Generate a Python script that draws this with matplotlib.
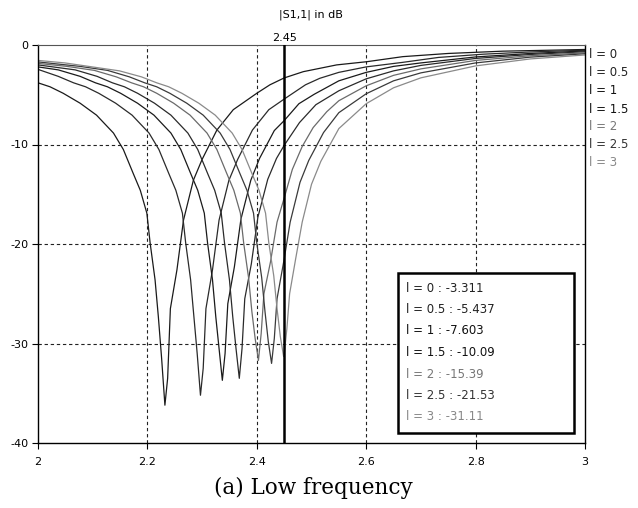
import matplotlib
matplotlib.use('Agg')
import matplotlib.pyplot as plt
from matplotlib.patches import Rectangle
from matplotlib.transforms import blended_transform_factory

plt.rcParams['axes.unicode_minus'] = False

# |S1,1| curves, one list pair per l value
freq_l0 = [2.000, 2.022, 2.046, 2.077, 2.107, 2.138, 2.156, 2.174, 2.187, 2.199, 2.205, 2.214, 2.220, 2.226, 2.232,
           2.237, 2.242, 2.254, 2.266, 2.284, 2.300, 2.327, 2.357, 2.400, 2.424, 2.450, 2.485, 2.546, 2.601, 2.667,
           2.750, 2.850, 3.000]
db_l0 = [-3.8, -4.2, -4.85, -5.85, -7.05, -8.85, -10.5, -12.9, -14.6, -16.9, -19.9, -23.6, -27.3, -31.5, -36.2,
         -33.5, -26.5, -22.6, -17.6, -13.6, -11.5, -8.55, -6.5, -4.85, -4.0, -3.311, -2.68, -2.0, -1.68, -1.17,
         -0.85, -0.62, -0.45]

freq_l05 = [2.000, 2.037, 2.065, 2.087, 2.111, 2.142, 2.172, 2.203, 2.221, 2.239, 2.252, 2.264, 2.270, 2.279, 2.285,
            2.291, 2.297, 2.302, 2.307, 2.319, 2.331, 2.349, 2.365, 2.392, 2.422, 2.450, 2.489, 2.515, 2.550, 2.600,
            2.666, 2.732, 2.815, 2.900, 3.000]
db_l05 = [-2.45, -3.15, -3.8, -4.2, -4.85, -5.85, -7.05, -8.85, -10.5, -12.9, -14.6, -16.9, -19.9, -23.6, -27.3,
          -31.0, -35.2, -32.5, -26.5, -22.6, -17.6, -13.6, -11.5, -8.55, -6.5, -5.437, -4.0, -3.35, -2.75, -2.2,
          -1.75, -1.25, -0.92, -0.7, -0.52]

freq_l1 = [2.000, 2.037, 2.077, 2.105, 2.127, 2.151, 2.182, 2.212, 2.243, 2.261, 2.279, 2.292, 2.304, 2.310, 2.319,
           2.325, 2.331, 2.337, 2.342, 2.347, 2.359, 2.371, 2.389, 2.405, 2.432, 2.450, 2.477, 2.505, 2.550, 2.600,
           2.650, 2.700, 2.800, 2.900, 3.000]
db_l1 = [-2.2, -2.5, -3.15, -3.8, -4.2, -4.85, -5.85, -7.05, -8.85, -10.5, -12.9, -14.6, -16.9, -19.9, -23.6,
         -27.3, -30.5, -33.7, -31.0, -26.0, -22.3, -17.5, -13.6, -11.4, -8.6, -7.603, -5.9, -4.95, -3.6, -2.75,
         -2.15, -1.8, -1.2, -0.85, -0.6]

freq_l15 = [2.000, 2.068, 2.108, 2.136, 2.158, 2.182, 2.213, 2.243, 2.274, 2.292, 2.310, 2.323, 2.335, 2.341, 2.350,
            2.356, 2.362, 2.368, 2.373, 2.378, 2.390, 2.402, 2.420, 2.436, 2.450, 2.478, 2.508, 2.550, 2.600, 2.650,
            2.700, 2.800, 2.900, 3.000]
db_l15 = [-2.0, -2.5, -3.15, -3.8, -4.2, -4.85, -5.85, -7.05, -8.85, -10.5, -12.9, -14.6, -16.9, -19.9, -23.6,
          -27.3, -30.5, -33.5, -30.5, -25.5, -22.0, -17.3, -13.5, -11.4, -10.09, -7.8, -6.0, -4.6, -3.4, -2.6,
          -2.05, -1.35, -0.95, -0.68]

freq_l2 = [2.000, 2.053, 2.103, 2.143, 2.171, 2.193, 2.217, 2.248, 2.278, 2.309, 2.327, 2.345, 2.358, 2.370, 2.376,
           2.385, 2.391, 2.397, 2.403, 2.408, 2.413, 2.425, 2.437, 2.450, 2.465, 2.483, 2.503, 2.528, 2.550, 2.600,
           2.650, 2.700, 2.800, 2.900, 3.000]
db_l2 = [-1.85, -2.15, -2.55, -3.2, -3.8, -4.2, -4.85, -5.85, -7.05, -8.85, -10.5, -12.9, -14.6, -16.9, -19.9,
         -23.4, -26.8, -29.5, -31.7, -29.0, -25.0, -21.8, -17.8, -15.39, -12.5, -10.2, -8.3, -6.7, -5.6, -4.1,
         -3.05, -2.4, -1.55, -1.08, -0.78]

freq_l25 = [2.000, 2.077, 2.127, 2.167, 2.195, 2.217, 2.241, 2.272, 2.302, 2.333, 2.351, 2.369, 2.382, 2.394, 2.400,
            2.409, 2.415, 2.421, 2.427, 2.432, 2.437, 2.450, 2.461, 2.479, 2.495, 2.522, 2.550, 2.600, 2.650, 2.700,
            2.800, 2.900, 3.000]
db_l25 = [-1.7, -2.15, -2.55, -3.2, -3.8, -4.2, -4.85, -5.85, -7.05, -8.85, -10.5, -12.9, -14.6, -16.9, -19.9,
          -23.4, -26.8, -29.8, -32.0, -29.5, -25.5, -21.53, -17.8, -13.8, -11.6, -8.8, -6.8, -4.9, -3.6, -2.8,
          -1.8, -1.22, -0.88]

freq_l3 = [2.000, 2.049, 2.099, 2.149, 2.189, 2.217, 2.239, 2.263, 2.294, 2.324, 2.355, 2.373, 2.391, 2.404, 2.416,
           2.422, 2.431, 2.437, 2.443, 2.449, 2.450, 2.455, 2.460, 2.471, 2.483, 2.500, 2.517, 2.550, 2.600, 2.650,
           2.700, 2.800, 2.900, 3.000]
db_l3 = [-1.55, -1.8, -2.2, -2.6, -3.2, -3.8, -4.2, -4.85, -5.85, -7.05, -8.85, -10.5, -12.9, -14.6, -16.9,
         -19.9, -23.2, -26.5, -29.3, -31.3, -31.11, -28.5, -25.0, -21.5, -17.8, -14.0, -11.7, -8.4, -5.9, -4.3,
         -3.3, -2.1, -1.4, -1.0]

curve_names = ['l = 0', 'l = 0.5', 'l = 1', 'l = 1.5', 'l = 2', 'l = 2.5', 'l = 3']
marker_freq = 2.45
marker_vals = ['-3.311', '-5.437', '-7.603', '-10.09', '-15.39', '-21.53', '-31.11']
x_ticks = [2, 2.2, 2.4, 2.6, 2.8, 3]
x_ticklabels = ['2', '2.2', '2.4', '2.6', '2.8', '3']
y_ticks = [0, -10, -20, -30, -40]

curves = [(freq_l0, db_l0), (freq_l05, db_l05), (freq_l1, db_l1), (freq_l15, db_l15),
          (freq_l2, db_l2), (freq_l25, db_l25), (freq_l3, db_l3)]
line_colors = ['#1a1a1a', '#2a2a2a', '#1a1a1a', '#2a2a2a', '#6a6a6a', '#3a3a3a', '#8a8a8a']
text_colors = ['#222222', '#222222', '#111111', '#111111', '#777777', '#333333', '#888888']

W, H = 638, 508
fig = plt.figure(figsize=(W / 100, H / 100), dpi=100)
ax = fig.add_axes([38 / W, 1 - 443 / H, 547 / W, 398 / H])

for (f, d), c in zip(curves, line_colors):
    ax.plot(f, d, color=c, lw=0.9)

ax.set_xlim(2, 3)
ax.set_ylim(-40, 0)
ax.set_xticks(x_ticks)
ax.set_xticklabels(x_ticklabels)
ax.set_yticks(y_ticks)
ax.tick_params(labelsize=8, length=4, width=0.8)
ax.tick_params(axis='x', pad=6)
ax.tick_params(axis='y', pad=3)

# dashed grid only on the inner lines
for x in x_ticks[1:-1]:
    ax.axvline(x, color='#222222', lw=0.8, ls=(0, (3, 2.5)), zorder=0)
for y in y_ticks[1:-1]:
    ax.axhline(y, color='#222222', lw=0.8, ls=(0, (3, 2.5)), zorder=0)

for side in ['left', 'bottom', 'right']:
    ax.spines[side].set_linewidth(1.0)
ax.spines['top'].set_color('#555555')

# marker line
ax.axvline(marker_freq, color='black', lw=1.8, zorder=3)
tr = blended_transform_factory(ax.transData, ax.transAxes)
ax.text(marker_freq, 1.005, '2.45', transform=tr, ha='center', va='bottom', fontsize=8)

fig.text(311 / W, 1 - 15 / H, '|S1,1| in dB', ha='center', va='center', fontsize=8)

# legend on the right
for i, name in enumerate(curve_names):
    fig.text(589 / W, 1 - (55 + 18 * i) / H, name, ha='left', va='center', fontsize=8.5,
             color=text_colors[i])

# marker readout box
box = Rectangle((0.658, 0.025), 0.322, 0.402, transform=ax.transAxes, fill=True, facecolor='white',
                edgecolor='black', lw=1.8, zorder=5)
ax.add_patch(box)
for i, (name, val) in enumerate(zip(curve_names, marker_vals)):
    ypx = 288 + 21.5 * i
    ax.text(0.672, (443 - ypx) / 398, name + ' : ' + val, transform=ax.transAxes, ha='left', va='center',
            fontsize=8.5, color=text_colors[i], zorder=6)

fig.text(313 / W, 1 - 488 / H, '(a) Low frequency', ha='center', va='center', fontsize=15.5,
         family='DejaVu Serif')

fig.savefig('out.png', dpi=100)
